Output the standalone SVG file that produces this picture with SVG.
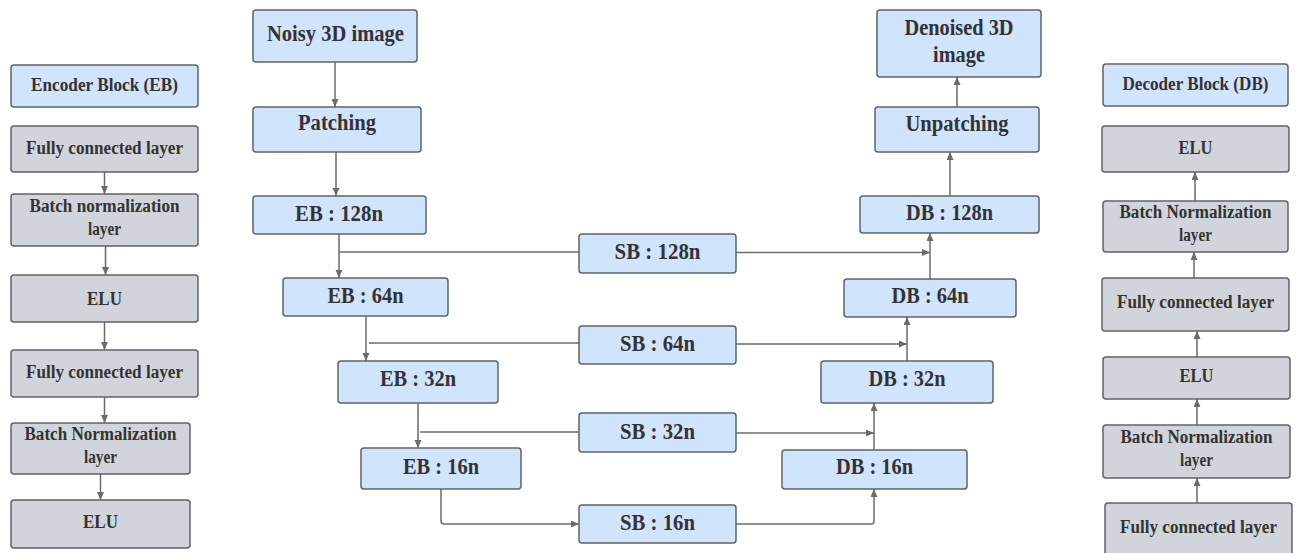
<svg xmlns="http://www.w3.org/2000/svg" width="1296" height="553" viewBox="0 0 1296 553">
<style>
.b{fill:#d0e4fc;stroke:#5f6368;stroke-width:1.5}
.g{fill:#d1d5db;stroke:#5f6368;stroke-width:1.5}
text{font-family:"Liberation Serif","Times New Roman",serif;font-weight:bold;fill:#333;text-anchor:middle}
.s{font-size:18.5px}
.l{font-size:22.5px}
.c{fill:none;stroke:#6b6b6b;stroke-width:1.5}
</style>
<defs>
<marker id="ah" markerUnits="userSpaceOnUse" markerWidth="9" markerHeight="8" refX="8" refY="3.5" orient="auto">
<path d="M0,0 L8,3.5 L0,7 z" fill="#6b6b6b"/>
</marker>
</defs>
<rect width="1296" height="553" fill="#fff"/>
<g id="connectors">
<path class="c" d="M104.5,172 V194" marker-end="url(#ah)"/>
<path class="c" d="M105.5,246 V275" marker-end="url(#ah)"/>
<path class="c" d="M104.5,322 V350" marker-end="url(#ah)"/>
<path class="c" d="M104.5,397 V423" marker-end="url(#ah)"/>
<path class="c" d="M100.5,474 V500" marker-end="url(#ah)"/>
<path class="c" d="M335,62 V107" marker-end="url(#ah)"/>
<path class="c" d="M336,152 V196" marker-end="url(#ah)"/>
<path class="c" d="M339,234 V278" marker-end="url(#ah)"/>
<path class="c" d="M339,252 H579"/>
<path class="c" d="M366,316 V361" marker-end="url(#ah)"/>
<path class="c" d="M369,343 H579"/>
<path class="c" d="M418,403 V448" marker-end="url(#ah)"/>
<path class="c" d="M420,432 H579"/>
<path class="c" d="M441,489 V521 Q441,524 444,524 H579" marker-end="url(#ah)"/>
<path class="c" d="M736,252.5 H930" marker-end="url(#ah)"/>
<path class="c" d="M930,279 V233" marker-end="url(#ah)"/>
<path class="c" d="M736,344 H907" marker-end="url(#ah)"/>
<path class="c" d="M907,361 V317" marker-end="url(#ah)"/>
<path class="c" d="M736,433 H874" marker-end="url(#ah)"/>
<path class="c" d="M874,450 V403" marker-end="url(#ah)"/>
<path class="c" d="M736,524 H871 Q874,524 874,521 V489" marker-end="url(#ah)"/>
<path class="c" d="M950,196 V152" marker-end="url(#ah)"/>
<path class="c" d="M957,107 V77" marker-end="url(#ah)"/>
<path class="c" d="M1195,201 V172" marker-end="url(#ah)"/>
<path class="c" d="M1194,278 V252" marker-end="url(#ah)"/>
<path class="c" d="M1197,357 V331" marker-end="url(#ah)"/>
<path class="c" d="M1197,425 V399" marker-end="url(#ah)"/>
<path class="c" d="M1197,503 V478" marker-end="url(#ah)"/>
</g>
<g id="enc-title"><rect class="b" x="11" y="65" width="187" height="42" rx="3"/><text class="s" x="104.5" y="91" textLength="147" lengthAdjust="spacingAndGlyphs">Encoder Block (EB)</text></g>
<g id="enc-fc1"><rect class="g" x="11" y="126" width="187" height="46" rx="3"/><text class="s" x="104.5" y="154" textLength="157" lengthAdjust="spacingAndGlyphs">Fully connected layer</text></g>
<g id="enc-bn1"><rect class="g" x="11" y="194" width="187" height="52" rx="3"/><text class="s" x="104.5" y="212" textLength="150" lengthAdjust="spacingAndGlyphs">Batch normalization</text><text class="s" x="104.5" y="235" textLength="33" lengthAdjust="spacingAndGlyphs">layer</text></g>
<g id="enc-elu1"><rect class="g" x="11" y="275" width="187" height="47" rx="3"/><text class="s" x="104.5" y="305" textLength="35" lengthAdjust="spacingAndGlyphs">ELU</text></g>
<g id="enc-fc2"><rect class="g" x="11" y="350" width="187" height="47" rx="3"/><text class="s" x="104.5" y="378" textLength="157" lengthAdjust="spacingAndGlyphs">Fully connected layer</text></g>
<g id="enc-bn2"><rect class="g" x="11" y="423" width="179" height="51" rx="3"/><text class="s" x="100.5" y="440" textLength="152" lengthAdjust="spacingAndGlyphs">Batch Normalization</text><text class="s" x="100.5" y="463" textLength="33" lengthAdjust="spacingAndGlyphs">layer</text></g>
<g id="enc-elu2"><rect class="g" x="11" y="500" width="179" height="48" rx="3"/><text class="s" x="100.5" y="528" textLength="35" lengthAdjust="spacingAndGlyphs">ELU</text></g>

<g id="noisy"><rect class="b" x="253" y="10" width="164" height="52" rx="3"/><text class="l" x="335.5" y="41" textLength="137" lengthAdjust="spacingAndGlyphs">Noisy 3D image</text></g>
<g id="patching"><rect class="b" x="253" y="107" width="168" height="45" rx="3"/><text class="l" x="337" y="130" textLength="78" lengthAdjust="spacingAndGlyphs">Patching</text></g>
<g id="eb128"><rect class="b" x="253" y="196" width="173" height="38" rx="3"/><text class="l" x="339" y="220.5" textLength="88" lengthAdjust="spacingAndGlyphs">EB : 128n</text></g>
<g id="eb64"><rect class="b" x="283" y="278" width="165" height="38" rx="3"/><text class="l" x="365.5" y="302.5" textLength="76" lengthAdjust="spacingAndGlyphs">EB : 64n</text></g>
<g id="eb32"><rect class="b" x="338" y="361" width="160" height="42" rx="3"/><text class="l" x="418" y="385.5" textLength="76" lengthAdjust="spacingAndGlyphs">EB : 32n</text></g>
<g id="eb16"><rect class="b" x="361" y="448" width="160" height="41" rx="3"/><text class="l" x="441" y="473.5" textLength="76" lengthAdjust="spacingAndGlyphs">EB : 16n</text></g>

<g id="sb128"><rect class="b" x="579" y="234" width="157" height="39" rx="3"/><text class="l" x="657.5" y="258.5" textLength="86" lengthAdjust="spacingAndGlyphs">SB : 128n</text></g>
<g id="sb64"><rect class="b" x="579" y="326" width="157" height="38" rx="3"/><text class="l" x="657.5" y="350.5" textLength="75" lengthAdjust="spacingAndGlyphs">SB : 64n</text></g>
<g id="sb32"><rect class="b" x="579" y="413" width="157" height="39" rx="3"/><text class="l" x="657.5" y="438.5" textLength="75" lengthAdjust="spacingAndGlyphs">SB : 32n</text></g>
<g id="sb16"><rect class="b" x="579" y="505" width="157" height="38" rx="3"/><text class="l" x="657.5" y="529.5" textLength="75" lengthAdjust="spacingAndGlyphs">SB : 16n</text></g>

<g id="denoised"><rect class="b" x="877" y="10" width="164" height="67" rx="3"/><text class="l" x="959" y="34.5" textLength="109" lengthAdjust="spacingAndGlyphs">Denoised 3D</text><text class="l" x="959" y="61.5" textLength="52" lengthAdjust="spacingAndGlyphs">image</text></g>
<g id="unpatching"><rect class="b" x="875" y="107" width="164" height="45" rx="3"/><text class="l" x="957" y="131" textLength="103" lengthAdjust="spacingAndGlyphs">Unpatching</text></g>
<g id="db128"><rect class="b" x="860" y="196" width="179" height="37" rx="3"/><text class="l" x="949.5" y="220" textLength="87" lengthAdjust="spacingAndGlyphs">DB : 128n</text></g>
<g id="db64"><rect class="b" x="844" y="279" width="172" height="38" rx="3"/><text class="l" x="930" y="302.5" textLength="77" lengthAdjust="spacingAndGlyphs">DB : 64n</text></g>
<g id="db32"><rect class="b" x="821" y="361" width="172" height="42" rx="3"/><text class="l" x="907" y="385.5" textLength="77" lengthAdjust="spacingAndGlyphs">DB : 32n</text></g>
<g id="db16"><rect class="b" x="782" y="450" width="185" height="39" rx="3"/><text class="l" x="874.5" y="473.5" textLength="77" lengthAdjust="spacingAndGlyphs">DB : 16n</text></g>

<g id="dec-title"><rect class="b" x="1103" y="64" width="185" height="42" rx="3"/><text class="s" x="1195.5" y="90" textLength="146" lengthAdjust="spacingAndGlyphs">Decoder Block (DB)</text></g>
<g id="dec-elu1"><rect class="g" x="1102" y="126" width="187" height="46" rx="3"/><text class="s" x="1195.5" y="154" textLength="34" lengthAdjust="spacingAndGlyphs">ELU</text></g>
<g id="dec-bn1"><rect class="g" x="1103" y="201" width="185" height="51" rx="3"/><text class="s" x="1195.5" y="218" textLength="152" lengthAdjust="spacingAndGlyphs">Batch Normalization</text><text class="s" x="1195.5" y="241" textLength="33" lengthAdjust="spacingAndGlyphs">layer</text></g>
<g id="dec-fc1"><rect class="g" x="1102" y="278" width="187" height="53" rx="3"/><text class="s" x="1195.5" y="308" textLength="157" lengthAdjust="spacingAndGlyphs">Fully connected layer</text></g>
<g id="dec-elu2"><rect class="g" x="1103" y="357" width="187" height="42" rx="3"/><text class="s" x="1196.5" y="382" textLength="34" lengthAdjust="spacingAndGlyphs">ELU</text></g>
<g id="dec-bn2"><rect class="g" x="1103" y="425" width="187" height="53" rx="3"/><text class="s" x="1196.5" y="443" textLength="152" lengthAdjust="spacingAndGlyphs">Batch Normalization</text><text class="s" x="1196.5" y="466" textLength="33" lengthAdjust="spacingAndGlyphs">layer</text></g>
<g id="dec-fc2"><rect class="g" x="1105" y="503" width="187" height="55" rx="3"/><text class="s" x="1198.5" y="533" textLength="157" lengthAdjust="spacingAndGlyphs">Fully connected layer</text></g>
</svg>
